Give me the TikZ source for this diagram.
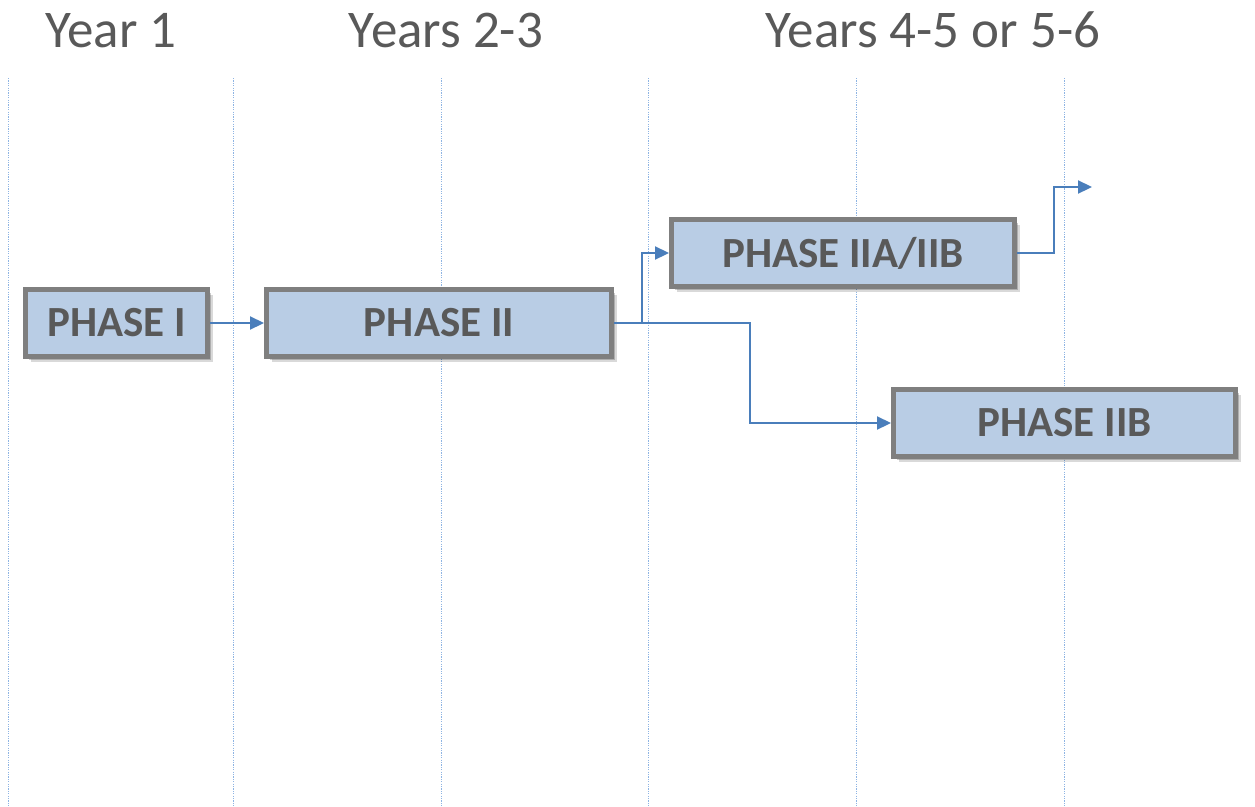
\documentclass[tikz,border=0pt]{standalone}
\usepackage{fontspec}
\setmainfont{Carlito}
\usetikzlibrary{arrows.meta,shadows}
\definecolor{boxfill}{HTML}{B9CDE5}
\definecolor{boxline}{HTML}{7F7F7F}
\definecolor{txtgray}{HTML}{595959}
\definecolor{arrblue}{HTML}{4A7EBB}
\definecolor{gridblue}{HTML}{8EB4E3}
\tikzset{
  phase/.style={draw=boxline, line width=5pt, fill=boxfill, minimum height=67pt,
    text=txtgray, font=\fontsize{43}{48}\selectfont\bfseries, inner sep=0pt,
    drop shadow={shadow xshift=5pt, shadow yshift=-5pt, opacity=0.15, fill=black},
    drop shadow={shadow xshift=3pt, shadow yshift=-3pt, opacity=0.2, fill=black}},
  arr/.style={draw=arrblue, line width=2.2pt, -{Triangle[length=14pt,width=13pt]}},
  gridline/.style={draw=gridblue, line width=0.9pt, dash pattern=on 1.2pt off 1.2pt},
  yeartitle/.style={text=txtgray, font=\fontsize{53}{60}\selectfont, anchor=base, inner sep=0pt}
}
\begin{document}
\begin{tikzpicture}[x=1pt,y=-1pt]
\useasboundingbox (0,0) rectangle (1255,806);
% grid lines
\foreach \gx in {8,233,441,648,856,1064}{
  \draw[gridline] (\gx,78) -- (\gx,806);
}
% titles
\node[yeartitle] (t1) at (111,47) {Year 1};
\node[yeartitle] (t2) at (446,47) {Years 2-3};
\node[yeartitle] (t3) at (933,47) {Years 4-5 or 5-6};
% boxes
\node[phase, minimum width=182pt] (p1) at (116.5,323) {PHASE I};
\node[phase, minimum width=345pt] (p2) at (439,323) {PHASE II};
\node[phase, minimum width=343pt] (p2a) at (843,253) {PHASE IIA/IIB};
\node[phase, minimum width=342pt] (p2b) at (1064.5,423) {PHASE IIB};
\coordinate (out) at (1092,187);
% connectors
\draw[arr] (p1.east) -- (p2.west);
\draw[arr] (p2.east) -- ++(28,0) |- (p2a.west);
\draw[arr] (p2.east) -- ++(136,0) |- (p2b.west);
\draw[arr] (p2a.east) -- ++(37,0) |- (out);
\end{tikzpicture}
\end{document}
